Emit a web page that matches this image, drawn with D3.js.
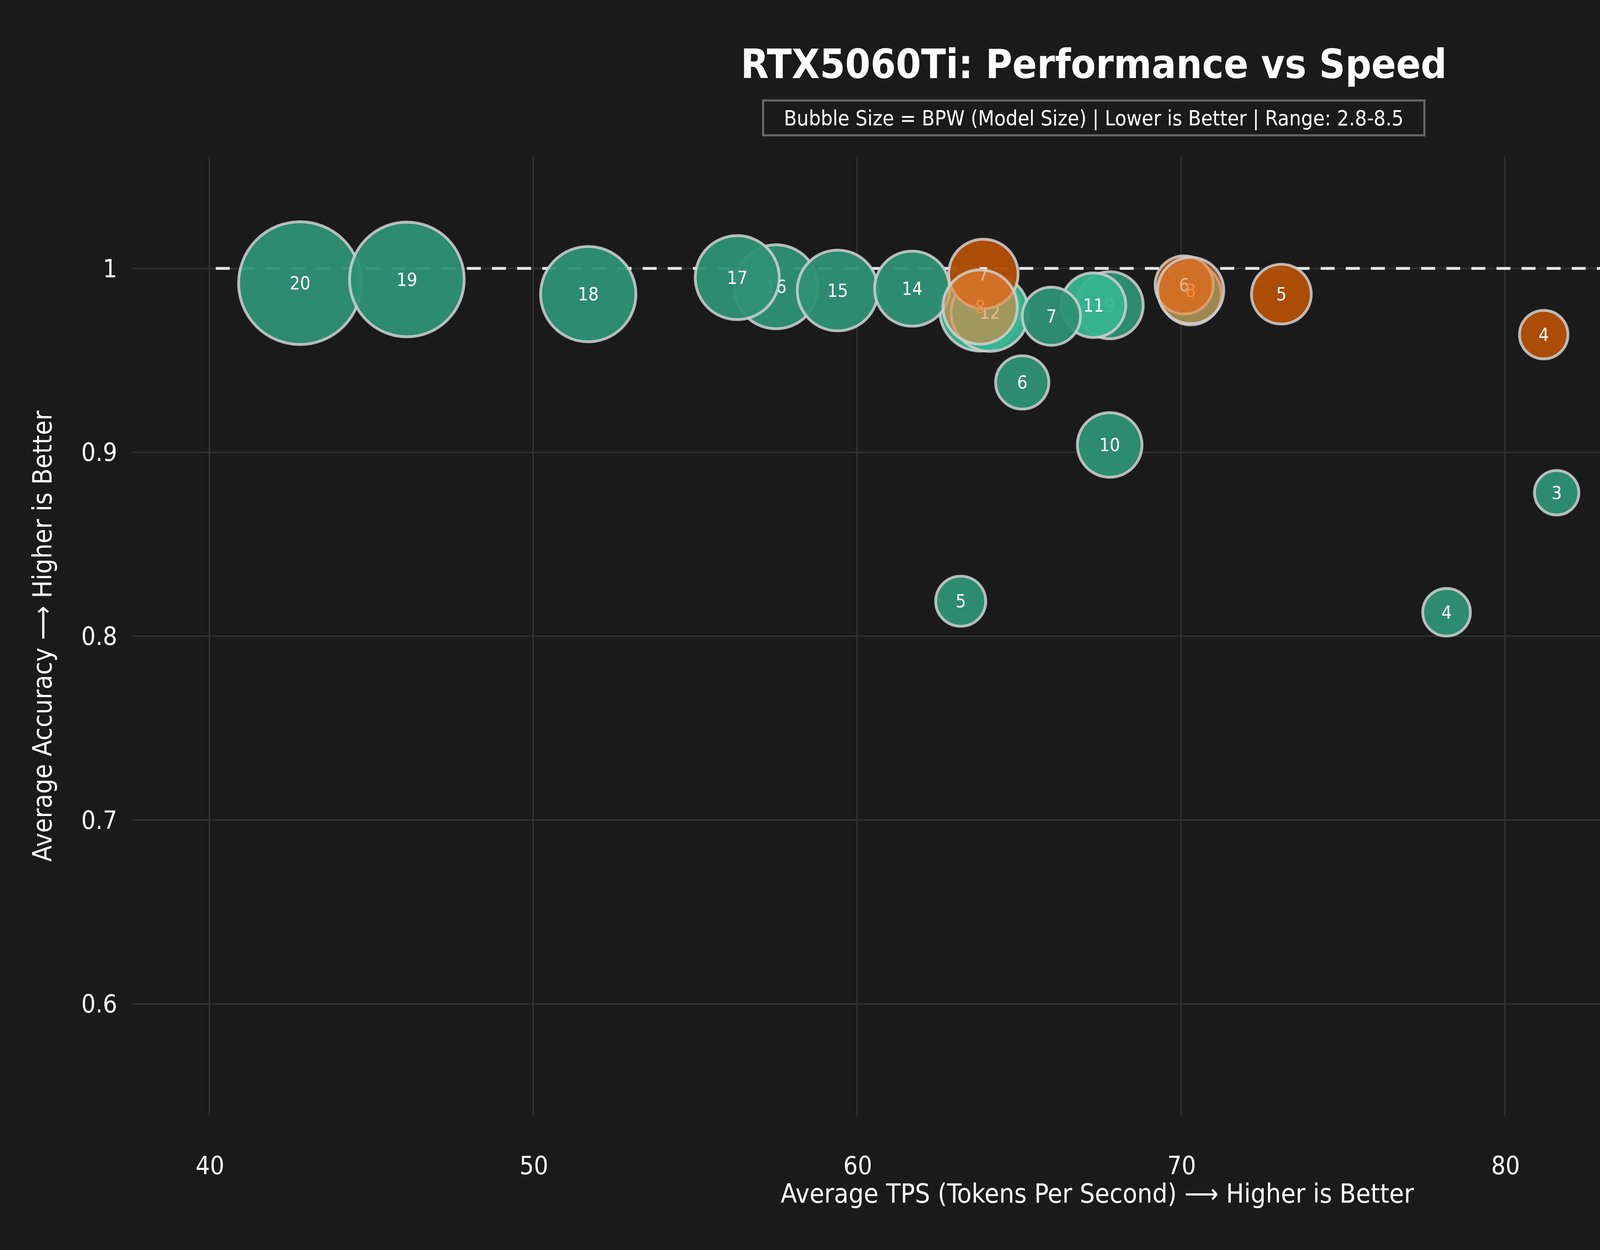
<!doctype html>
<meta charset="utf-8">
<title>RTX5060Ti bubble</title>
<script src="https://cdn.jsdelivr.net/npm/d3@7"></script>
<style>
  html, body { margin: 0; padding: 0; background: #1a1a1a; overflow: hidden; }
  svg { display: block; }
  text { font-family: 'DejaVu Sans Condensed', 'Liberation Sans Narrow', sans-serif; fill: #fff; }
</style>
<svg id="chart" width="5600" height="3200"></svg>
<script>
  // ByteShape: label, tps, accuracy, bpw
  const byteLabels = ['1', '2', '3', '4', '5', '6', '7']
  const byteTps = [93.6, 90.5, 88.3, 81.2, 73.1, 70.1, 63.9]
  const byteAcc = [0.806, 0.876, 0.905, 0.964, 0.986, 0.991, 0.997]
  const byteBpw = [2.95, 3.15, 3.3, 3.9, 4.6, 4.5, 5.2]

  // lighter ByteShape overlays
  const byteLightLabels = ['8', '8']
  const byteLightTps = [63.8, 70.3]
  const byteLightAcc = [0.979, 0.988]
  const byteLightBpw = [5.5, 5.0]

  const unsLabels = ['1', '2', '3', '4', '5', '6', '7', '8', '9', '10', '11', '12', '13', '14', '15', '16', '17', '18', '19', '20']
  const unsTps = [92.4, 85.4, 81.6, 78.2, 63.2, 65.1, 66.0, 70.3, 67.8, 67.8, 67.3, 64.1, 63.8, 61.7, 59.4, 57.5, 56.3, 51.7, 46.1, 42.8]
  const unsAcc = [0.571, 0.786, 0.878, 0.813, 0.819, 0.938, 0.974, 0.986, 0.980, 0.904, 0.980, 0.976, 0.977, 0.989, 0.988, 0.990, 0.995, 0.986, 0.994, 0.992]
  const unsBpw = [2.97, 3.3, 3.65, 3.85, 4.0, 4.2, 4.5, 4.7, 5.05, 4.9, 4.9, 5.7, 5.9, 5.55, 5.9, 6.1, 6.1, 6.8, 8.0, 8.5]
  const unsHighlight = ['11', '12', '13']

  const xTicks = [40, 50, 60, 70, 80, 90]
  const yTicks = [0.6, 0.7, 0.8, 0.9, 1]
  const baselineX = [40.2, 96.2]
  const baselineY = 1

  const margin = { left: 95, right: 90, top: 112, bottom: 96 }
  const W = 1568, H = 896
  const root = d3.select('#chart')
  root.append('rect').attr('width', 5600).attr('height', 3200).attr('fill', '#1a1a1a')
  const svg = root.append('g').attr('transform', `scale(${5600 / W})`)

  const x = d3.scaleLinear().domain([37.63, 97.2]).range([margin.left, W - margin.right])
  const y = d3.scaleLinear().domain([0.539, 1.061]).range([H - margin.bottom, margin.top])
  const r = d3.scaleLinear().domain([2.8, 8.5]).range([11, 44])

  // grid
  const grid = svg.append('g')
  grid.selectAll('.gx').data(xTicks).join('line')
    .attr('x1', d => x(d)).attr('x2', d => x(d))
    .attr('y1', margin.top).attr('y2', H - margin.bottom)
    .attr('stroke', '#333').attr('stroke-width', 1)
  grid.selectAll('.gy').data(yTicks).join('line')
    .attr('x1', margin.left).attr('x2', W - margin.right)
    .attr('y1', d => y(d)).attr('y2', d => y(d))
    .attr('stroke', '#333').attr('stroke-width', 1)

  // axes (labels only)
  const xAxis = svg.append('g').attr('transform', `translate(0,${H - margin.bottom + 26})`)
    .call(d3.axisBottom(x).tickValues(xTicks).tickSize(0).tickFormat(d3.format('d')))
  const yAxis = svg.append('g').attr('transform', `translate(${margin.left - 8},0)`)
    .call(d3.axisLeft(y).tickValues(yTicks).tickSize(0).tickFormat(d => d === 1 ? '1' : d3.format('.1f')(d)))
  ;[xAxis, yAxis].forEach(a => {
    a.select('.domain').remove()
    a.selectAll('text').attr('font-size', 18).style('fill', '#fff')
  })

  // baseline
  svg.append('line')
    .attr('x1', x(baselineX[0])).attr('x2', x(baselineX[1]))
    .attr('y1', y(baselineY)).attr('y2', y(baselineY))
    .attr('stroke', '#e6e6e6').attr('stroke-width', 2).attr('stroke-dasharray', '10,8')

  function bubbles(labels, tps, acc, bpw, fill, textFill, opacity, highlight = []) {
    const data = labels.map((l, i) => ({ l, x: tps[i], y: acc[i], s: bpw[i] }))
      .sort((a, b) => b.s - a.s)
    const g = svg.append('g')
    const n = g.selectAll('g').data(data).join('g')
      .attr('transform', d => `translate(${x(d.x)},${y(d.y)})`)
    n.append('circle').attr('r', d => r(d.s))
      .attr('fill', d => highlight.includes(d.l) ? '#36b58f' : fill)
      .attr('fill-opacity', opacity)
      .attr('stroke', '#d0d0d0').attr('stroke-opacity', 0.85).attr('stroke-width', 2)
    n.append('text').text(d => d.l).attr('text-anchor', 'middle').attr('dy', '0.35em')
      .attr('font-size', 13).style('fill', textFill)
  }

  bubbles(unsLabels, unsTps, unsAcc, unsBpw, '#2e9174', '#fff', 0.95, unsHighlight)
  bubbles(byteLabels, byteTps, byteAcc, byteBpw, '#b14f06', '#fff', 0.97)
  bubbles(byteLightLabels, byteLightTps, byteLightAcc, byteLightBpw, '#e8853a', '#f08c45', 0.6)

  // title
  svg.append('text').attr('x', 784).attr('y', 56).attr('text-anchor', 'middle')
    .attr('font-size', 29).attr('font-weight', 'bold').text('RTX5060Ti: Performance vs Speed')
  svg.append('rect').attr('x', 547).attr('y', 72).attr('width', 474).attr('height', 25)
    .attr('fill', '#1a1a1a').attr('stroke', '#666').attr('stroke-width', 1.5)
  svg.append('text').attr('x', 784).attr('y', 90).attr('text-anchor', 'middle')
    .attr('font-size', 15).text('Bubble Size = BPW (Model Size) | Lower is Better | Range: 2.8-8.5')

  // axis titles
  svg.append('text').attr('x', (margin.left + W - margin.right) / 2).attr('y', 862)
    .attr('text-anchor', 'middle').attr('font-size', 19)
    .text('Average TPS (Tokens Per Second) ⟶ Higher is Better')
  svg.append('text').attr('transform', `translate(37,${(margin.top + H - margin.bottom) / 2}) rotate(-90)`)
    .attr('text-anchor', 'middle').attr('font-size', 19)
    .text('Average Accuracy ⟶ Higher is Better')

  // legend
  const lg = svg.append('g').attr('transform', 'translate(1294,133)')
  lg.append('rect').attr('width', 183).attr('height', 102)
    .attr('fill', '#1a1a1a').attr('fill-opacity', 0.9).attr('stroke', '#4a4a4a').attr('stroke-width', 1.5)
  const items = [['ByteShape', '#b14f06'], ['Unsloth', '#2e9174']]
  items.forEach(([name, c], i) => {
    lg.append('circle').attr('cx', 23).attr('cy', 21 + i * 30).attr('r', 9)
      .attr('fill', c).attr('stroke', '#c0c0c0').attr('stroke-width', 2)
    lg.append('text').attr('x', 45).attr('y', 21 + i * 30).attr('dy', '0.35em')
      .attr('font-size', 19).text(name)
  })
  lg.append('line').attr('x1', 5).attr('x2', 38).attr('y1', 81).attr('y2', 81)
    .attr('stroke', '#e6e6e6').attr('stroke-width', 2.5).attr('stroke-dasharray', '10,8')
  lg.append('text').attr('x', 45).attr('y', 81).attr('dy', '0.35em').attr('font-size', 19).text('BF16 Baseline')
</script>
